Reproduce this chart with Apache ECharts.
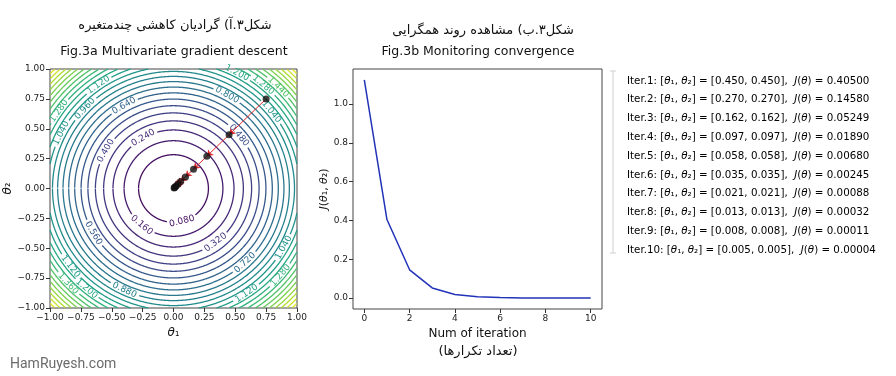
<!DOCTYPE html>
<html>
<head>
<meta charset="utf-8">
<style>
html, body { margin: 0; background: #fff; }
#chart { width: 896px; height: 376px; }
</style>
</head>
<body>
<div id="chart"></div>
<script src="https://cdn.jsdelivr.net/npm/echarts@6/dist/echarts.min.js"></script>
<script>
// gradient descent path, theta1 == theta2 at every step
var iterations = [0, 1, 2, 3, 4, 5, 6, 7, 8, 9, 10];
var thetaPath = [0.75, 0.45, 0.27, 0.162, 0.097, 0.058, 0.035, 0.021, 0.013, 0.008, 0.005];
var costVals = [1.125, 0.405, 0.1458, 0.05249, 0.0189, 0.0068, 0.00245, 0.00088, 0.00032, 0.00011, 0.00004];

// contour levels of J = theta1^2 + theta2^2
var contourLevels = [0.08, 0.16, 0.24, 0.32, 0.40, 0.48, 0.56, 0.64, 0.72, 0.80, 0.88, 0.96, 1.04,
    1.12, 1.20, 1.28, 1.36, 1.44, 1.52, 1.60, 1.68, 1.76, 1.84, 1.92];
// [level, angle in degrees] where the inline label sits
var contourLabels = [
    [0.08, -76], [0.16, -130], [0.24, 120], [0.32, -53], [0.40, 150], [0.48, 40],
    [0.56, -150], [0.64, 120], [0.72, -47], [0.80, 61], [0.88, -115], [0.96, 137],
    [1.04, 153], [1.04, -29], [1.04, 39], [1.12, 125], [1.12, -56], [1.12, -142],
    [1.20, 62], [1.20, -130], [1.28, 50], [1.28, 145], [1.28, -40], [1.36, -137], [1.44, 45]
];
var thetaTicks = [-1, -0.75, -0.5, -0.25, 0, 0.25, 0.5, 0.75, 1];
var iterTicks = [0, 2, 4, 6, 8, 10];
var costTicks = [0, 0.2, 0.4, 0.6, 0.8, 1.0];

var titleA = 'شکل۳.آ) گرادیان کاهشی چندمتغیره';
var titleB = 'شکل۳.ب) مشاهده روند همگرایی';
var iterFa = '(تعداد تکرارها)';

var FONT = 'DejaVu Sans';
var viridis = ['#440154', '#482878', '#3e4989', '#31688e', '#26828e', '#1f9e89', '#35b779', '#6ece58', '#b5de2b', '#fde725'];

// right-to-left marks so the whole line is laid out as Persian
function rtl(s) {
    return '\u200f' + s + '\u200f';
}
function minus(s) {
    return s.replace('-', '\u2212');
}

function renderContour(params, api) {
    var level = api.value(0);
    var r = Math.sqrt(level);
    var color = api.visual('color');
    var rpx = api.size([r, 0])[0];
    var gapDeg = (15 / rpx) * 180 / Math.PI;
    var gaps = contourLabels.filter(function (d) { return d[0] === level; }).map(function (d) { return d[1]; });
    var runs = [], cur = [];
    for (var a = -180; a <= 180; a += 0.4) {
        var rad = a * Math.PI / 180;
        var x = r * Math.cos(rad), y = r * Math.sin(rad);
        var inGap = gaps.some(function (g) {
            var d = Math.abs(((a - g) % 360 + 540) % 360 - 180);
            return d < gapDeg;
        });
        if (Math.abs(x) <= 1 && Math.abs(y) <= 1 && !inGap) {
            cur.push(api.coord([x, y]));
        } else {
            if (cur.length > 1) runs.push(cur);
            cur = [];
        }
    }
    if (cur.length > 1) runs.push(cur);
    return {
        type: 'group',
        children: runs.map(function (pts) {
            return { type: 'polyline', shape: { points: pts }, style: { stroke: color, fill: null, lineWidth: 1.3 } };
        })
    };
}

function renderLabel(params, api) {
    var level = api.value(0), ang = api.value(1);
    var r = Math.sqrt(level), rad = ang * Math.PI / 180;
    var p = api.coord([r * Math.cos(rad), r * Math.sin(rad)]);
    var t = ang + 90;
    while (t > 90) t -= 180;
    while (t <= -90) t += 180;
    return {
        type: 'text', x: p[0], y: p[1], rotation: t * Math.PI / 180,
        style: { text: level.toFixed(3), fill: api.visual('color'), font: '9px ' + FONT, align: 'center', verticalAlign: 'middle' }
    };
}

var listTexts = [];
for (var i = 1; i < thetaPath.length; i++) {
    var tv = thetaPath[i].toFixed(3);
    listTexts.push({
        type: 'text', x: 627, y: 81 + (i - 1) * 18.8,
        style: {
            text: '{n|Iter.' + i + ': [}{i|θ}{n|₁, }{i|θ}{n|₂] = [' + tv + ', ' + tv + '],  }{i|J}{n|(}{i|θ}{n|) = ' + costVals[i].toFixed(5) + '}',
            verticalAlign: 'middle',
            rich: {
                n: { fontFamily: FONT, fontSize: 10.3, color: '#111' },
                i: { fontFamily: FONT, fontSize: 10.3, fontStyle: 'italic', color: '#111' }
            }
        }
    });
}

var chart = echarts.init(document.getElementById('chart'));
var axisText = { fontFamily: FONT, fontSize: 9, color: '#222' };
var tickStyle = { show: true, length: 4, lineStyle: { color: '#333' } };
var noLine = { show: false, onZero: false };

chart.setOption({
    animation: false,
    backgroundColor: '#fff',
    grid: [
        { left: 50, top: 69, width: 247, height: 239, show: true, borderColor: '#444', borderWidth: 1 },
        { left: 353, top: 69, width: 249, height: 240, show: true, borderColor: '#444', borderWidth: 1 }
    ],
    xAxis: [{
        gridIndex: 0, type: 'value', min: -1, max: 1, interval: 0.25,
        axisLine: noLine, axisTick: tickStyle, splitLine: { show: false },
        axisLabel: Object.assign({ margin: 5, formatter: function (v) { return minus(v.toFixed(2)); } }, axisText),
        name: '{i|θ}{n|₁}', nameLocation: 'middle', nameGap: 19,
        nameTextStyle: { rich: { i: { fontFamily: FONT, fontSize: 12, fontStyle: 'italic', color: '#111' }, n: { fontFamily: FONT, fontSize: 11, color: '#111' } } }
    }, {
        gridIndex: 1, type: 'value', min: -0.5, max: 10.5,
        axisLine: noLine, splitLine: { show: false },
        axisTick: Object.assign({ customValues: iterTicks }, tickStyle),
        axisLabel: Object.assign({ margin: 5, customValues: iterTicks, formatter: function (v) { return String(v); } }, axisText),
        name: 'Num of iteration', nameLocation: 'middle', nameGap: 18,
        nameTextStyle: { fontFamily: FONT, fontSize: 12, color: '#111' }
    }],
    yAxis: [{
        gridIndex: 0, type: 'value', min: -1, max: 1, interval: 0.25,
        axisLine: noLine, axisTick: tickStyle, splitLine: { show: false },
        axisLabel: Object.assign({ margin: 5, formatter: function (v) { return minus(v.toFixed(2)); } }, axisText),
        name: '{i|θ}{n|₂}', nameLocation: 'middle', nameGap: 29, nameRotate: 90,
        nameTextStyle: { rich: { i: { fontFamily: FONT, fontSize: 12, fontStyle: 'italic', color: '#111' }, n: { fontFamily: FONT, fontSize: 11, color: '#111' } } }
    }, {
        gridIndex: 1, type: 'value', min: -0.05 * costVals[0], max: 1.05 * costVals[0],
        axisLine: noLine, splitLine: { show: false },
        axisTick: Object.assign({ customValues: costTicks }, tickStyle),
        axisLabel: Object.assign({ margin: 5, customValues: costTicks, formatter: function (v) { return v.toFixed(1); } }, axisText),
        name: '{i|J}{n|(}{i|θ}{n|₁, }{i|θ}{n|₂)}', nameLocation: 'middle', nameGap: 18, nameRotate: 90,
        nameTextStyle: { rich: { i: { fontFamily: FONT, fontSize: 11, fontStyle: 'italic', color: '#111' }, n: { fontFamily: FONT, fontSize: 11, color: '#111' } } }
    }],
    visualMap: {
        show: false, type: 'continuous', seriesIndex: [0, 1], dimension: 0,
        min: 0, max: 2, inRange: { color: viridis }
    },
    series: [{
        type: 'custom', xAxisIndex: 0, yAxisIndex: 0, renderItem: renderContour,
        data: contourLevels.map(function (l) { return [l]; }), silent: true
    }, {
        type: 'custom', xAxisIndex: 0, yAxisIndex: 0, renderItem: renderLabel,
        data: contourLabels, silent: true, z: 3
    }, {
        type: 'lines', coordinateSystem: 'cartesian2d', xAxisIndex: 0, yAxisIndex: 0, z: 4,
        symbol: ['none', 'arrow'], symbolSize: 6,
        lineStyle: { color: '#e0282c', width: 1, opacity: 1 },
        data: thetaPath.slice(1).map(function (t, k) {
            return { coords: [[thetaPath[k], thetaPath[k]], [t, t]] };
        })
    }, {
        type: 'scatter', xAxisIndex: 0, yAxisIndex: 0, symbolSize: 7,
        itemStyle: { color: '#111' }, z: 5,
        data: thetaPath.map(function (t) { return [t, t]; })
    }, {
        type: 'line', xAxisIndex: 1, yAxisIndex: 1, showSymbol: false,
        lineStyle: { color: '#2233b8', width: 1.5 },
        data: iterations.map(function (it, k) { return [it, costVals[k]]; })
    }],
    graphic: [
        { type: 'text', x: 175, y: 26, style: { text: rtl(titleA), font: '13px ' + FONT, fill: '#111', align: 'center', verticalAlign: 'middle' } },
        { type: 'text', x: 174, y: 52, style: { text: 'Fig.3a Multivariate gradient descent', font: '12.6px ' + FONT, fill: '#111', align: 'center', verticalAlign: 'middle' } },
        { type: 'text', x: 483, y: 31, style: { text: rtl(titleB), font: '13px ' + FONT, fill: '#111', align: 'center', verticalAlign: 'middle' } },
        { type: 'text', x: 478, y: 52, style: { text: 'Fig.3b Monitoring convergence', font: '12.5px ' + FONT, fill: '#111', align: 'center', verticalAlign: 'middle' } },
        { type: 'text', x: 478, y: 352, style: { text: rtl(iterFa), font: '13px ' + FONT, fill: '#111', align: 'center', verticalAlign: 'middle' } },
        { type: 'line', shape: { x1: 613, y1: 71, x2: 613, y2: 253 }, style: { stroke: '#cfcfcf', lineWidth: 1 } },
        { type: 'line', shape: { x1: 610, y1: 71, x2: 616, y2: 71 }, style: { stroke: '#cfcfcf', lineWidth: 1 } },
        { type: 'line', shape: { x1: 610, y1: 253, x2: 616, y2: 253 }, style: { stroke: '#cfcfcf', lineWidth: 1 } },
        { type: 'group', children: listTexts },
        { type: 'text', x: 10, y: 364, style: { text: 'HamRuyesh.com', font: '14px Roboto', fill: '#6b6b6b', verticalAlign: 'middle' } }
    ]
});
</script>
</body>
</html>
